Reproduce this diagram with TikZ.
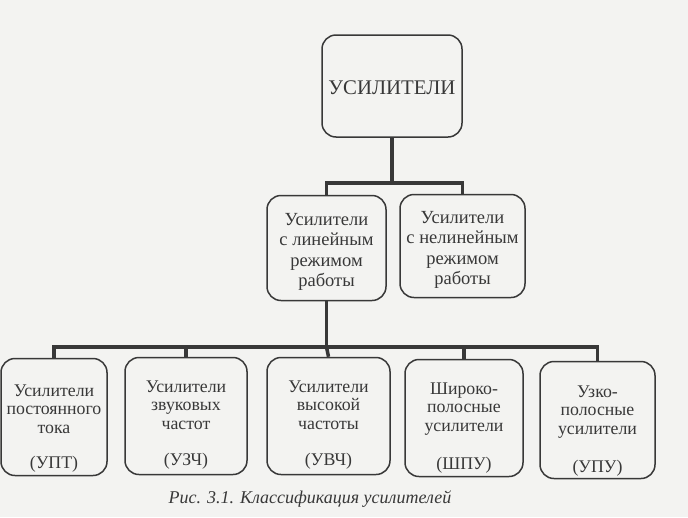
\documentclass[tikz,border=0pt]{standalone}
\usepackage{fontspec}
\setmainfont{Liberation Serif}
\begin{document}
\begin{tikzpicture}[x=1pt,y=-1pt,
  box/.style={draw=ink,line width=1.5pt,rounded corners=14pt,inner sep=0pt},
  lbl/.style={align=center,text=ink,font=\fontsize{17.8}{18.6}\selectfont,inner sep=0pt},
  midlbl/.style={align=center,text=ink,font=\fontsize{18.5}{20.5}\selectfont,inner sep=0pt},
  wire/.style={draw=ink,line width=3.5pt}]
\definecolor{ink}{HTML}{383838}
\definecolor{paper}{HTML}{F3F3F1}
\fill[paper] (0,0) rectangle (688,517);
\useasboundingbox (0,0) rectangle (688,517);
% top
\node[box,minimum width=140pt,minimum height=102pt] (top) at (392,86) {};
\node[text=ink,font=\fontsize{20.8}{24}\selectfont,inner sep=0pt] (toptxt) at (392,88) {УСИЛИТЕЛИ};
% middle
\node[box,minimum width=119pt,minimum height=105pt] (lin) at (326.5,248) {};
\node[midlbl] (lintxt) at (326.5,252) {Усилители\\с линейным\\режимом\\работы};
\node[box,minimum width=125pt,minimum height=103pt] (nonlin) at (462.5,246) {};
\node[midlbl] (nonlintxt) at (462.5,250) {Усилители\\с нелинейным\\режимом\\работы};
% bottom
\node[box,minimum width=106pt,minimum height=117pt] (b1) at (54,417) {};
\node[box,minimum width=122pt,minimum height=117pt] (b2) at (186,416) {};
\node[box,minimum width=123pt,minimum height=117pt] (b3) at (328.5,416) {};
\node[box,minimum width=118pt,minimum height=117pt] (b4) at (464,418) {};
\node[box,minimum width=115pt,minimum height=117pt] (b5) at (597.5,420) {};
\node[lbl] (t1) at (54,409) {Усилители\\постоянного\\тока};
\node[lbl] (a1) at (54,464) {(УПТ)};
\node[lbl] (t2) at (186,405) {Усилители\\звуковых\\частот};
\node[lbl] (a2) at (186,461) {(УЗЧ)};
\node[lbl] (t3) at (328.5,405) {Усилители\\высокой\\частоты};
\node[lbl] (a3) at (328.5,461) {(УВЧ)};
\node[lbl] (t4) at (464,409) {Широко-\\полосные\\усилители};
\node[lbl] (a4) at (464,465) {(ШПУ)};
\node[lbl] (t5) at (597.5,412) {Узко-\\полосные\\усилители};
\node[lbl] (a5) at (597.5,468) {(УПУ)};
% connectors
\coordinate (j1) at (392,183);
\coordinate (j2) at (326.5,347);
\draw[wire] (top.south) -- (j1);
\draw[wire] (j1) -| (lin.north);
\draw[wire] (j1) -| (nonlin.north);
\draw[wire] (lin.south) -- (j2);
\draw[wire] (j2) -| (b1.north);
\draw[wire] (j2) -| (b2.north);
\draw[wire] (j2) -- (b3.north);
\draw[wire] (j2) -| (b4.north);
\draw[wire] (j2) -| (b5.north);
% caption
\node[text=ink,font=\fontsize{18}{21}\itshape,inner sep=0pt] (cap) at (310,499) {Рис. 3.1. Классификация усилителей};
\end{tikzpicture}
\end{document}
